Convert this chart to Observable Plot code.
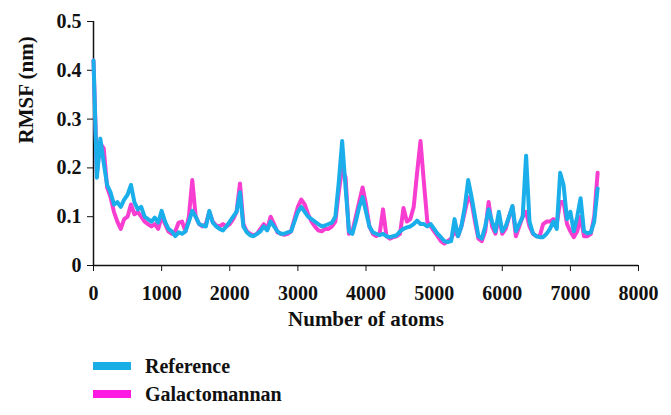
<!DOCTYPE html>
<html>
<head>
<meta charset="utf-8">
<script src="https://cdn.jsdelivr.net/npm/d3@7"></script>
<script src="https://cdn.jsdelivr.net/npm/@observablehq/plot@0.6"></script>
<style>
  html, body { margin: 0; padding: 0; background: #fff; }
  #wrap { position: relative; width: 671px; height: 415px; font-family: "Liberation Serif", "Times New Roman", serif; font-weight: bold; }
  .leg { position: absolute; left: 93px; height: 28px; display: flex; align-items: center; font-size: 20px; color: #111; }
  .sw { width: 38px; height: 8px; margin-right: 14px; }
</style>
</head>
<body>
<div id="wrap"><div id="chart"></div></div>
<script>
const seriesNames = ["Reference", "Galactomannan"];
const seriesColors = ["#1aaeea", "#f83ed0"];
const legendColors = ["#19aee6", "#ff1ae3"];
const xTicks = [0, 1000, 2000, 3000, 4000, 5000, 6000, 7000, 8000];
const yTicks = [0, 0.1, 0.2, 0.3, 0.4, 0.5];

// atom index sampled every 50 atoms
const atoms = d3.range(0, 7401, 50);

const reference = [
  0.42, 0.18, 0.26, 0.21, 0.165, 0.15, 0.125, 0.13, 0.12, 0.135,
  0.145, 0.165, 0.13, 0.115, 0.12, 0.10, 0.095, 0.09, 0.098, 0.088,
  0.112, 0.09, 0.075, 0.07, 0.06, 0.068, 0.065, 0.07, 0.09, 0.112,
  0.1, 0.085, 0.082, 0.08, 0.112, 0.088, 0.08, 0.075, 0.072, 0.08,
  0.09, 0.1, 0.11, 0.15, 0.08, 0.068, 0.062, 0.06, 0.065, 0.07,
  0.08, 0.072, 0.09, 0.08, 0.07, 0.065, 0.065, 0.068, 0.07, 0.09,
  0.11, 0.12, 0.11, 0.1, 0.095, 0.09, 0.085, 0.08, 0.082, 0.085,
  0.088, 0.1, 0.17, 0.255, 0.16, 0.07, 0.065, 0.09, 0.12, 0.14,
  0.11, 0.08, 0.068, 0.065, 0.062, 0.065, 0.06, 0.058, 0.06, 0.062,
  0.07, 0.075, 0.078, 0.08, 0.085, 0.092, 0.085, 0.085, 0.08, 0.085,
  0.075, 0.065, 0.058, 0.05, 0.048, 0.05, 0.095, 0.06, 0.08, 0.12,
  0.175, 0.14, 0.1, 0.06, 0.055, 0.08, 0.115, 0.09, 0.07, 0.11,
  0.07, 0.08, 0.1, 0.122, 0.07, 0.085, 0.1, 0.225, 0.09, 0.066,
  0.06, 0.058, 0.058, 0.065, 0.075, 0.09, 0.075, 0.19, 0.165, 0.095,
  0.11, 0.07, 0.1, 0.138, 0.07, 0.066, 0.068, 0.09, 0.158
];

const galactomannan = [
  0.42, 0.19, 0.25, 0.24, 0.16, 0.14, 0.11, 0.09, 0.075, 0.095,
  0.1, 0.125, 0.105, 0.11, 0.1, 0.09, 0.085, 0.08, 0.085, 0.075,
  0.1, 0.085, 0.07, 0.065, 0.07, 0.088, 0.09, 0.07, 0.1, 0.175,
  0.1, 0.085, 0.08, 0.085, 0.11, 0.09, 0.082, 0.08, 0.085, 0.08,
  0.085, 0.095, 0.11, 0.168, 0.085, 0.07, 0.065, 0.062, 0.065, 0.075,
  0.085, 0.075, 0.1, 0.085, 0.068, 0.065, 0.063, 0.065, 0.07, 0.095,
  0.12, 0.135, 0.125, 0.105, 0.09, 0.08, 0.072, 0.07, 0.075, 0.075,
  0.08, 0.09, 0.15, 0.2, 0.18, 0.065, 0.07, 0.1, 0.13, 0.16,
  0.125, 0.08, 0.065, 0.06, 0.065, 0.115, 0.06, 0.055, 0.058, 0.06,
  0.065, 0.118, 0.09, 0.095, 0.12, 0.19, 0.255, 0.17, 0.09, 0.08,
  0.07, 0.06, 0.05, 0.045, 0.05, 0.055, 0.07, 0.06, 0.08, 0.11,
  0.14, 0.13, 0.09, 0.055, 0.05, 0.07, 0.13, 0.08, 0.065, 0.1,
  0.065, 0.075, 0.1, 0.12, 0.06, 0.08, 0.1, 0.11, 0.08, 0.065,
  0.06, 0.06, 0.085, 0.09, 0.09, 0.095, 0.085, 0.13, 0.13, 0.085,
  0.07, 0.058, 0.07, 0.1, 0.06, 0.06, 0.065, 0.1, 0.19
];

const refData = atoms.map((a, i) => ({atom: a, rmsf: reference[i]}));
const galData = atoms.map((a, i) => ({atom: a, rmsf: galactomannan[i]}));

const font = "Liberation Serif, Times New Roman, serif";

const chart = Plot.plot({
  width: 671,
  height: 340,
  marginLeft: 93,
  marginRight: 33,
  marginTop: 21,
  marginBottom: 75,
  style: {fontFamily: font, fontWeight: "bold", fontSize: "20px", color: "#111", background: "#fff"},
  x: {domain: [0, 8000]},
  y: {domain: [0, 0.5]},
  marks: [
    Plot.axisX({ticks: xTicks, tickFormat: d => String(d), tickSize: 6, tickPadding: 14, label: null, fontSize: 20, fontWeight: "bold"}),
    Plot.axisY({ticks: yTicks, tickFormat: d => d === 0 ? "0" : d.toFixed(1), tickSize: 6, tickPadding: 6, label: null, fontSize: 20, fontWeight: "bold"}),
    Plot.ruleY([0], {stroke: "#111", strokeWidth: 1.5}),
    Plot.ruleX([0], {stroke: "#111", strokeWidth: 1.5}),
    Plot.line(galData, {x: "atom", y: "rmsf", stroke: seriesColors[1], strokeWidth: 4, strokeLinejoin: "round"}),
    Plot.line(refData, {x: "atom", y: "rmsf", stroke: seriesColors[0], strokeWidth: 4, strokeLinejoin: "round"}),
    Plot.text(["RMSF (nm)"], {frameAnchor: "left", dx: -67, rotate: -90, text: d => d, fontSize: 21, fontWeight: "bold", fill: "#111"}),
    Plot.text(["Number of atoms"], {frameAnchor: "bottom", dy: 60, text: d => d, fontSize: 21, fontWeight: "bold", fill: "#111"})
  ]
});
document.getElementById("chart").appendChild(chart);

const wrap = document.getElementById("wrap");
seriesNames.forEach((name, i) => {
  const row = document.createElement("div");
  row.className = "leg";
  row.style.top = (352 + i * 28) + "px";
  const sw = document.createElement("div");
  sw.className = "sw";
  sw.style.background = legendColors[i];
  const t = document.createElement("span");
  t.textContent = name;
  row.appendChild(sw);
  row.appendChild(t);
  wrap.appendChild(row);
});
</script>
</body>
</html>
